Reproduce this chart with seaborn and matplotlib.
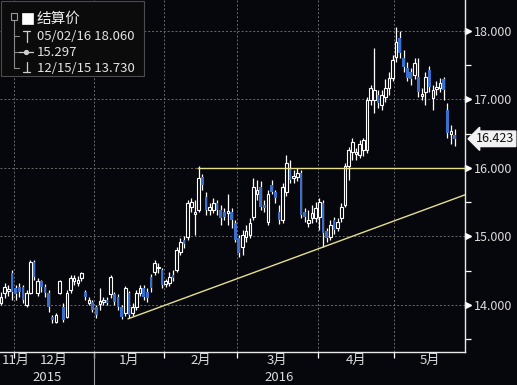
import numpy as np
import pandas as pd
import matplotlib
matplotlib.use('Agg')
import matplotlib.pyplot as plt
from matplotlib.lines import Line2D
from matplotlib.patches import Rectangle
import seaborn as sns

# trading days (exchange holidays removed)
holidays = ['2015-11-26', '2015-12-25', '2016-01-01', '2016-01-18', '2016-02-15', '2016-03-25']
dates = pd.bdate_range('2015-11-24', '2016-05-24').drop(pd.to_datetime(holidays))

opens = [14.03, 14.17, 14.20, 14.47, 14.25, 14.26, 14.26, 14.00, 14.17, 14.63,
         14.17, 14.34, 14.26, 14.17, 13.82, 13.75, 14.17, 13.96, 13.82, 14.22,
         14.34, 14.32, 14.39, 14.19, 14.03, 14.04, 13.97, 14.01, 14.04, 14.07,
         14.15, 14.15, 14.12, 13.97, 13.88, 14.17, 13.88, 13.96, 14.17, 14.25,
         14.19, 14.41, 14.48, 14.53, 14.51, 14.31, 14.32, 14.44, 14.51, 14.77,
         14.95, 14.99, 15.43, 15.33, 15.39, 15.87, 15.58, 15.39, 15.39, 15.49,
         15.39, 15.36, 15.34, 15.36, 15.20, 14.98, 14.85, 14.99, 15.02, 15.28,
         15.61, 15.72, 15.46, 15.21, 15.75, 15.64, 15.36, 15.24, 15.64, 16.00,
         15.85, 15.87, 15.93, 15.36, 15.20, 15.27, 15.27, 15.28, 15.49, 15.07,
         14.99, 15.24, 15.12, 15.27, 15.46, 16.02, 16.23, 16.20, 16.19, 16.26,
         16.26, 16.99, 16.99, 17.07, 16.92, 17.04, 17.17, 17.31, 17.62, 17.90,
         17.61, 17.46, 17.40, 17.36, 17.33, 17.05, 17.11, 17.43, 17.02, 17.15,
         17.17, 17.29, 16.85, 16.50, 16.48]
highs = [14.19, 14.32, 14.29, 14.51, 14.29, 14.32, 14.29, 14.22, 14.66, 14.66,
         14.39, 14.36, 14.31, 14.22, 13.85, 13.88, 14.36, 14.03, 14.22, 14.44,
         14.44, 14.42, 14.48, 14.22, 14.12, 14.07, 14.00, 14.25, 14.12, 14.12,
         14.44, 14.19, 14.15, 14.00, 14.28, 14.20, 14.03, 14.22, 14.29, 14.29,
         14.25, 14.45, 14.66, 14.61, 14.54, 14.38, 14.48, 14.51, 14.85, 14.98,
         15.01, 15.53, 15.56, 15.53, 16.02, 15.91, 15.64, 15.49, 15.56, 15.53,
         15.46, 15.42, 15.61, 15.42, 15.24, 15.02, 15.09, 15.17, 15.27, 15.85,
         15.82, 15.80, 15.53, 15.68, 15.82, 15.68, 15.45, 15.78, 16.19, 16.12,
         15.97, 15.99, 15.97, 15.42, 15.39, 15.46, 15.50, 15.56, 15.53, 15.12,
         15.24, 15.28, 15.26, 15.49, 16.07, 16.31, 16.44, 16.29, 16.41, 16.44,
         17.04, 17.21, 17.75, 17.14, 17.14, 17.29, 17.40, 17.65, 18.06, 18.00,
         17.72, 17.55, 17.46, 17.61, 17.61, 17.17, 17.40, 17.49, 17.21, 17.26,
         17.31, 17.33, 16.95, 16.63, 16.56]
lows = [13.99, 14.10, 14.13, 14.07, 14.07, 14.12, 14.03, 13.97, 14.15, 14.36,
        14.13, 14.19, 14.12, 13.90, 13.73, 13.74, 14.15, 13.75, 13.81, 14.17,
        14.29, 14.28, 14.34, 14.07, 14.00, 13.90, 13.81, 13.93, 14.00, 13.99,
        14.10, 14.00, 13.93, 13.79, 13.84, 13.81, 13.84, 13.93, 14.13, 14.07,
        14.04, 14.19, 14.44, 14.47, 14.25, 14.26, 14.28, 14.35, 14.48, 14.73,
        14.83, 14.95, 15.36, 15.02, 15.36, 15.68, 15.31, 15.31, 15.34, 15.31,
        15.17, 15.24, 15.17, 15.12, 14.91, 14.70, 14.73, 14.92, 14.98, 15.24,
        15.53, 15.39, 15.36, 15.17, 15.61, 15.49, 15.18, 15.20, 15.59, 15.78,
        15.78, 15.81, 15.27, 15.21, 15.14, 15.20, 15.21, 15.09, 14.85, 14.92,
        14.95, 15.04, 15.07, 15.21, 15.43, 15.82, 16.12, 16.12, 16.15, 16.17,
        16.22, 16.92, 16.80, 16.88, 16.85, 16.96, 17.07, 17.26, 17.55, 17.61,
        17.40, 17.26, 17.21, 17.29, 17.04, 16.99, 16.92, 17.11, 16.85, 17.07,
        17.11, 16.99, 16.44, 16.34, 16.32]
closes = [14.12, 14.26, 14.23, 14.19, 14.15, 14.19, 14.07, 14.17, 14.63, 14.41,
          14.34, 14.26, 14.17, 13.97, 13.78, 13.85, 14.34, 13.78, 14.17, 14.39,
          14.39, 14.36, 14.47, 14.12, 14.07, 13.93, 13.85, 14.06, 14.07, 14.03,
          14.41, 14.04, 13.97, 13.82, 14.25, 13.85, 13.97, 14.17, 14.25, 14.12,
          14.10, 14.25, 14.61, 14.55, 14.29, 14.34, 14.41, 14.39, 14.80, 14.92,
          14.88, 15.49, 15.50, 15.36, 15.85, 15.75, 15.39, 15.43, 15.49, 15.39,
          15.27, 15.28, 15.37, 15.24, 14.95, 14.76, 15.02, 15.07, 15.20, 15.72,
          15.68, 15.43, 15.42, 15.61, 15.65, 15.56, 15.24, 15.72, 16.07, 15.82,
          15.88, 15.93, 15.31, 15.28, 15.24, 15.34, 15.42, 15.50, 15.05, 14.98,
          15.17, 15.09, 15.21, 15.43, 16.02, 16.26, 16.37, 16.23, 16.34, 16.41,
          16.99, 17.17, 17.14, 16.95, 17.07, 17.17, 17.31, 17.58, 17.83, 17.68,
          17.47, 17.31, 17.29, 17.53, 17.10, 17.08, 17.33, 17.18, 17.14, 17.18,
          17.24, 17.14, 16.51, 16.53, 16.423]

# legend text
legend_title = '结算价'
high_text = '05/02/16 18.060'
avg_text = '15.297'
low_text = '12/15/15 13.730'

# drawn lines: flat resistance and rising trend
resistance_level = 16.0
resistance_start = '2016-02-12'
trend_dates = ['2016-01-15', '2016-05-24']
trend_values = [13.80, 15.55]

y_ticks = [14, 15, 16, 17, 18]

BG = '#06060d'
BLUE = '#3a6fcc'
YELLOW = '#e6df8c'
GRID = '#6a6a6a'
TXT = '#dcdcdc'

sns.set_theme(style='dark')
plt.rcParams['font.family'] = ['Noto Sans CJK SC', 'DejaVu Sans']

W, H = 517, 385
fig = plt.figure(figsize=(W / 100, H / 100), dpi=100, facecolor=BG)
ax = fig.add_axes([0, 1 - 352 / H, 465 / W, 352 / H])
ax.set_facecolor(BG)

o = np.array(opens)
h = np.array(highs)
l = np.array(lows)
c = np.array(closes)
x = np.arange(len(dates))
up = c >= o
body_lo = np.minimum(o, c)
body_h = np.maximum(np.abs(c - o), 0.015)

x_left, x_right = -0.27, 126.8
ax.set_xlim(x_left, x_right)
ax.set_ylim(13.31, 18.45)

# month boundaries from the trading calendar
months = pd.Series(dates.to_period('M'))
starts = [i for i in range(len(months)) if i == 0 or months[i] != months[i - 1]]
bounds = [s - 0.5 for s in starts[1:]]

for b in bounds:
    ax.axvline(b, color=GRID, lw=0.7, ls=(0, (2, 2)), zorder=1)
for yv in y_ticks:
    ax.axhline(yv, color=GRID, lw=0.7, ls=(0, (2, 2)), zorder=1)

# candles
ax.vlines(x, l, h, color='white', lw=0.9, zorder=3)
ax.bar(x[up], body_h[up], bottom=body_lo[up], width=0.7, facecolor=BG,
       edgecolor='white', linewidth=0.8, zorder=4)
ax.bar(x[~up], body_h[~up], bottom=body_lo[~up], width=0.75, color=BLUE,
       linewidth=0, zorder=4)

# resistance and trend lines
d_index = {d: i for i, d in enumerate(dates)}
r0 = d_index[pd.Timestamp(resistance_start)]
ax.hlines(resistance_level, r0 - 0.3, x_right, color=YELLOW, lw=1.0, zorder=5)
t0 = d_index[pd.Timestamp(trend_dates[0])]
t1 = d_index[pd.Timestamp(trend_dates[1])]
slope = (trend_values[1] - trend_values[0]) / (t1 - t0)
tx = np.array([t0 - 0.3, x_right])
sns.lineplot(x=tx, y=trend_values[0] + slope * (tx - t0), ax=ax, color=YELLOW,
             lw=1.0, zorder=5)

# axes frame
for s in ['top', 'left']:
    ax.spines[s].set_visible(False)
for s in ['right', 'bottom']:
    ax.spines[s].set_visible(True)
    ax.spines[s].set_color('#e8e8e8')
    ax.spines[s].set_linewidth(1.0)

ax.yaxis.tick_right()
ax.set_yticks(y_ticks)
ax.set_yticklabels([f'{v:.3f}' for v in y_ticks])
ax.set_yticks(np.arange(13.5, 18.5, 1.0), minor=True)
ax.tick_params(axis='y', which='major', length=0, pad=6.5, labelsize=9,
               labelcolor=TXT, right=True, left=False, labelright=True, labelleft=False)
ax.tick_params(axis='y', which='minor', length=4, width=0.9, color='white',
               direction='out', right=True, left=False)
ytr = ax.get_yaxis_transform()
ax.plot([1.007] * len(y_ticks), y_ticks, ls='none', marker='>', ms=4.5,
        color='white', transform=ytr, clip_on=False)

ax.set_xticks(bounds)
ax.set_xticklabels([])
ax.tick_params(axis='x', which='major', length=4, width=0.9, color='white',
               direction='out', bottom=True)
ax.grid(False)

# month and year labels
xtr = ax.get_xaxis_transform()
edges = [x_left] + bounds + [x_right]
for k, s in enumerate(starts):
    mid = (edges[k] + edges[k + 1]) / 2
    mid = max(mid, x_left + 4.3)
    ax.text(mid, -0.025, f'{dates[s].month}月', transform=xtr, ha='center',
            va='center', color=TXT, fontsize=9.5)
years = pd.Series(dates.year)
ystarts = [i for i in range(len(years)) if i == 0 or years[i] != years[i - 1]]
yedges = [x_left] + [s - 0.5 for s in ystarts[1:]] + [x_right]
for k, s in enumerate(ystarts):
    ax.text((yedges[k] + yedges[k + 1]) / 2, -0.072, str(dates[s].year),
            transform=xtr, ha='center', va='center', color=TXT, fontsize=9.5)
for b in yedges[1:-1]:
    ax.plot([b, b], [0, -0.1], color='#9a9a9a', lw=0.8, transform=xtr, clip_on=False)

# last price tag
ax.text(1.024, c[-1], f'{c[-1]:.3f}', transform=ytr, ha='left', va='center',
        color='#111111', fontsize=9,
        bbox=dict(boxstyle='larrow,pad=0.1', fc='#f2f2f2', ec='#f2f2f2'))


# legend box (pixel coordinates)
def fx(px):
    return px / W


def fy(py):
    return 1 - py / H


fig.add_artist(Rectangle((fx(0.5), fy(76)), fx(143), 75.5 / H, transform=fig.transFigure,
                         facecolor='#0b0b0b', edgecolor='#4c4c4c', lw=0.8, zorder=10))


def seg(x0, y0, x1, y1, **kw):
    fig.add_artist(Line2D([fx(x0), fx(x1)], [fy(y0), fy(y1)], transform=fig.transFigure,
                          zorder=11, **kw))


# tree lines
seg(13.5, 20, 13.5, 68, color='#8a8a8a', lw=0.8)
for yy in [36, 52, 68]:
    seg(13.5, yy, 19, yy, color='#8a8a8a', lw=0.8)
fig.add_artist(Rectangle((fx(10.5), fy(19.5)), fx(6), 6 / H, transform=fig.transFigure,
                         facecolor='#0b0b0b', edgecolor='#9a9a9a', lw=0.8, zorder=12))
seg(12, 16.5, 15, 16.5, color='#9a9a9a', lw=0.8)
fig.add_artist(Rectangle((fx(22), fy(24)), fx(11), 11 / H, transform=fig.transFigure,
                         facecolor='white', edgecolor='white', lw=0.5, zorder=12))
# high / average / low icons
seg(23, 31, 30, 31, color='#cfcfcf', lw=0.9)
seg(26.5, 31, 26.5, 42, color='#cfcfcf', lw=0.9)
seg(19, 52, 33, 52, color='#cfcfcf', lw=0.9)
fig.add_artist(Line2D([fx(26)], [fy(52)], marker='o', ms=2.8, color='#cfcfcf',
                      transform=fig.transFigure, zorder=12))
seg(26.5, 62, 26.5, 72, color='#cfcfcf', lw=0.9)
seg(23, 72, 30, 72, color='#cfcfcf', lw=0.9)

fig.text(fx(37), fy(19), legend_title, ha='left', va='center', color='#eeeeee',
         fontsize=10.5, zorder=12)
fig.text(fx(37), fy(36), high_text, ha='left', va='center', color='#e4e4e4',
         fontsize=9.5, zorder=12)
fig.text(fx(37), fy(52), avg_text, ha='left', va='center', color='#e4e4e4',
         fontsize=9.5, zorder=12)
fig.text(fx(37), fy(68), low_text, ha='left', va='center', color='#e4e4e4',
         fontsize=9.5, zorder=12)

fig.savefig('out.png', dpi=100, facecolor=BG)
